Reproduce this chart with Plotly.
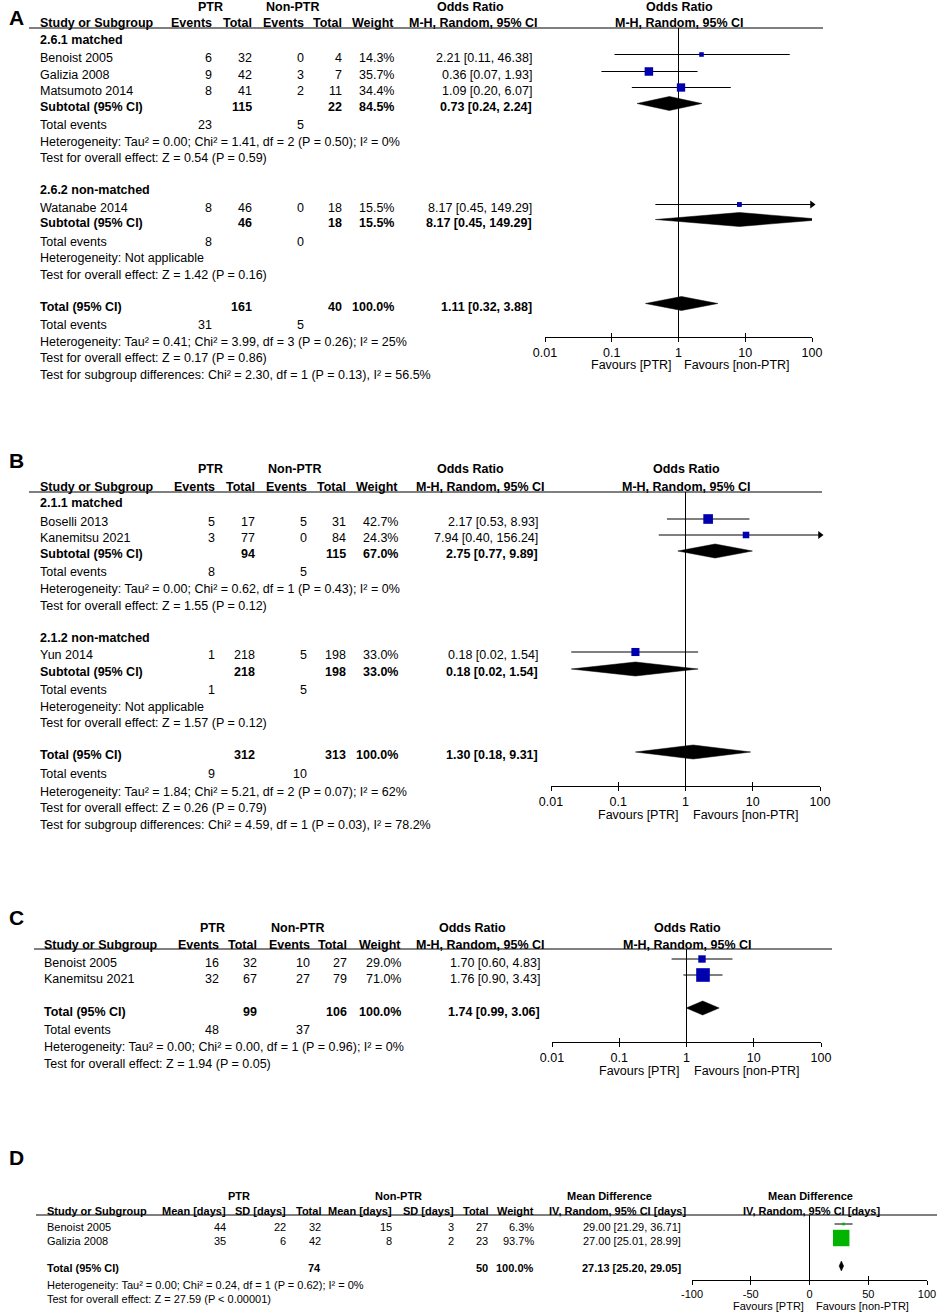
import math
import plotly.graph_objects as go

W, H = 939, 1314
FONT = "Liberation Sans, Arial, Helvetica, sans-serif"
BLUE = "#0000B0"
GREEN = "#00B400"

# ============================ DATA ============================
OR_TICKS = [0.01, 0.1, 1, 10, 100]
OR_TICK_TEXT = ["0.01", "0.1", "1", "10", "100"]
MD_TICKS = [-100, -50, 0, 50, 100]
MD_TICK_TEXT = ["-100", "-50", "0", "50", "100"]

# ---- Panel A ----
A_subgroups = ["2.6.1 matched", "2.6.2 non-matched"]
A_studies = ["Benoist 2005", "Galizia 2008", "Matsumoto 2014", "Watanabe 2014"]
A_study_group = [0, 0, 0, 1]
A_ptr_events = [6, 9, 8, 8]
A_ptr_total = [32, 42, 41, 46]
A_non_events = [0, 3, 2, 0]
A_non_total = [4, 7, 11, 18]
A_weight = [14.3, 35.7, 34.4, 15.5]
A_or = [2.21, 0.36, 1.09, 8.17]
A_or_lo = [0.11, 0.07, 0.20, 0.45]
A_or_hi = [46.38, 1.93, 6.07, 149.29]
A_sub_ptr_total = [115, 46]
A_sub_non_total = [22, 18]
A_sub_weight = [84.5, 15.5]
A_sub_or = [0.73, 8.17]
A_sub_lo = [0.24, 0.45]
A_sub_hi = [2.24, 149.29]
A_sub_ptr_events = [23, 8]
A_sub_non_events = [5, 0]
A_sub_het = ["Heterogeneity: Tau² = 0.00; Chi² = 1.41, df = 2 (P = 0.50); I² = 0%",
             "Heterogeneity: Not applicable"]
A_sub_z = ["Test for overall effect: Z = 0.54 (P = 0.59)",
           "Test for overall effect: Z = 1.42 (P = 0.16)"]
A_total_counts = [161, 40]
A_total_weight = 100.0
A_total_or = [1.11, 0.32, 3.88]
A_total_events = [31, 5]
A_total_notes = ["Heterogeneity: Tau² = 0.41; Chi² = 3.99, df = 3 (P = 0.26); I² = 25%",
                 "Test for overall effect: Z = 0.17 (P = 0.86)",
                 "Test for subgroup differences: Chi² = 2.30, df = 1 (P = 0.13), I² = 56.5%"]

# ---- Panel B ----
B_subgroups = ["2.1.1 matched", "2.1.2 non-matched"]
B_studies = ["Boselli 2013", "Kanemitsu 2021", "Yun 2014"]
B_study_group = [0, 0, 1]
B_ptr_events = [5, 3, 1]
B_ptr_total = [17, 77, 218]
B_non_events = [5, 0, 5]
B_non_total = [31, 84, 198]
B_weight = [42.7, 24.3, 33.0]
B_or = [2.17, 7.94, 0.18]
B_or_lo = [0.53, 0.40, 0.02]
B_or_hi = [8.93, 156.24, 1.54]
B_sub_ptr_total = [94, 218]
B_sub_non_total = [115, 198]
B_sub_weight = [67.0, 33.0]
B_sub_or = [2.75, 0.18]
B_sub_lo = [0.77, 0.02]
B_sub_hi = [9.89, 1.54]
B_sub_ptr_events = [8, 1]
B_sub_non_events = [5, 5]
B_sub_het = ["Heterogeneity: Tau² = 0.00; Chi² = 0.62, df = 1 (P = 0.43); I² = 0%",
             "Heterogeneity: Not applicable"]
B_sub_z = ["Test for overall effect: Z = 1.55 (P = 0.12)",
           "Test for overall effect: Z = 1.57 (P = 0.12)"]
B_total_counts = [312, 313]
B_total_weight = 100.0
B_total_or = [1.30, 0.18, 9.31]
B_total_events = [9, 10]
B_total_notes = ["Heterogeneity: Tau² = 1.84; Chi² = 5.21, df = 2 (P = 0.07); I² = 62%",
                 "Test for overall effect: Z = 0.26 (P = 0.79)",
                 "Test for subgroup differences: Chi² = 4.59, df = 1 (P = 0.03), I² = 78.2%"]

# ---- Panel C ----
C_studies = ["Benoist 2005", "Kanemitsu 2021"]
C_ptr_events = [16, 32]
C_ptr_total = [32, 67]
C_non_events = [10, 27]
C_non_total = [27, 79]
C_weight = [29.0, 71.0]
C_or = [1.70, 1.76]
C_or_lo = [0.60, 0.90]
C_or_hi = [4.83, 3.43]
C_total_counts = [99, 106]
C_total_weight = 100.0
C_total_or = [1.74, 0.99, 3.06]
C_total_events = [48, 37]
C_total_notes = ["Heterogeneity: Tau² = 0.00; Chi² = 0.00, df = 1 (P = 0.96); I² = 0%",
                 "Test for overall effect: Z = 1.94 (P = 0.05)"]

# ---- Panel D ----
D_studies = ["Benoist 2005", "Galizia 2008"]
D_ptr_mean = [44, 35]
D_ptr_sd = [22, 6]
D_ptr_total = [32, 42]
D_non_mean = [15, 8]
D_non_sd = [3, 2]
D_non_total = [27, 23]
D_weight = [6.3, 93.7]
D_md = [29.00, 27.00]
D_md_lo = [21.29, 25.01]
D_md_hi = [36.71, 28.99]
D_total_counts = [74, 50]
D_total_weight = 100.0
D_total_md = [27.13, 25.20, 29.05]
D_total_notes = ["Heterogeneity: Tau² = 0.00; Chi² = 0.24, df = 1 (P = 0.62); I² = 0%",
                 "Test for overall effect: Z = 27.59 (P < 0.00001)"]

# ============================ HELPERS ============================
fig = go.Figure()
annotations, shapes, axes = [], [], {}


def text(x, y, s, anchor="left", size=12.5, bold=False):
    annotations.append(dict(
        xref="paper", yref="paper", x=x / W, y=1 - y / H,
        text=(f"<b>{s}</b>" if bold else s), showarrow=False,
        xanchor=anchor, yanchor="middle", borderpad=0,
        font=dict(family=FONT, size=size, color="black")))


def hline(x0, x1, y):
    shapes.append(dict(type="line", xref="paper", yref="paper",
                       x0=x0 / W, x1=x1 / W, y0=1 - y / H, y1=1 - y / H,
                       line=dict(color="black", width=1)))


def fmt_ci(v):
    return f"{v[0]:.2f} [{v[1]:.2f}, {v[2]:.2f}]"


def square_size(w):
    return max(2.5, 0.75 * w ** 0.68)


def set_axes(k, x0, x1, ytop, ybot, log, ticks, ticktext, fs):
    xid = "x" if k == 1 else f"x{k}"
    yid = "y" if k == 1 else f"y{k}"
    rng = [math.log10(ticks[0]), math.log10(ticks[-1])] if log else [ticks[0], ticks[-1]]
    common = dict(type="log" if log else "linear", range=rng, tickvals=ticks,
                  showgrid=False, zeroline=False, fixedrange=True, automargin=False,
                  tickcolor="black", tickwidth=1, ticklen=4)
    axes["xaxis" + xid[1:]] = dict(
        domain=[x0 / W, x1 / W], anchor=yid, ticks="outside", ticktext=ticktext,
        showline=True, linecolor="black", linewidth=1,
        tickfont=dict(family=FONT, size=fs, color="black"), **common)
    axes["yaxis" + yid[1:]] = dict(
        domain=[1 - ybot / H, 1 - ytop / H], range=[ybot, ytop], anchor=xid,
        visible=False, showgrid=False, zeroline=False, fixedrange=True, automargin=False)
    oid = f"x{k + 4}"
    axes["xaxis" + oid[1:]] = dict(overlaying=xid, anchor=yid, ticks="inside",
                                   showticklabels=False, showline=False, **common)
    fig.add_trace(go.Scatter(x=[], y=[], xaxis=oid, yaxis=yid, showlegend=False))
    return xid, yid, rng


def draw_forest(xid, yid, ytop, ybot, ref, xmax, marks, diamonds, color, dh):
    fig.add_trace(go.Scatter(x=[ref, ref], y=[ybot, ytop], mode="lines",
                             line=dict(color="black", width=1), xaxis=xid, yaxis=yid,
                             hoverinfo="skip", showlegend=False))
    cx, cy = [], []
    for (y, e, lo, hi, w) in marks:
        cx += [lo, hi, None]
        cy += [y, y, None]
    fig.add_trace(go.Scatter(x=cx, y=cy, mode="lines", line=dict(color="black", width=1),
                             xaxis=xid, yaxis=yid, hoverinfo="skip", showlegend=False))
    ax_y = [y for (y, e, lo, hi, w) in marks if hi > xmax]
    if ax_y:
        fig.add_trace(go.Scatter(x=[xmax] * len(ax_y), y=ax_y, mode="markers",
                                 marker=dict(symbol="triangle-right", size=7, color="black",
                                             opacity=1),
                                 cliponaxis=False, xaxis=xid, yaxis=yid,
                                 hoverinfo="skip", showlegend=False))
    fig.add_trace(go.Scatter(
        x=[m[1] for m in marks], y=[m[0] for m in marks], mode="markers",
        marker=dict(symbol="square", size=[square_size(m[4]) for m in marks],
                    color=color, opacity=1, line=dict(width=0)),
        xaxis=xid, yaxis=yid, hoverinfo="skip", showlegend=False))
    for (y, e, lo, hi) in diamonds:
        fig.add_trace(go.Scatter(x=[lo, e, hi, e, lo], y=[y, y - dh, y, y + dh, y],
                                 mode="lines", fill="toself", fillcolor="black",
                                 line=dict(color="black", width=0.5),
                                 xaxis=xid, yaxis=yid, hoverinfo="skip", showlegend=False))


def or_panel(k, P, L):
    fs = L["fs"]
    c = L["cols"]
    rows = []
    if P.get("subgroups"):
        for g in range(len(P["subgroups"])):
            rows.append(("group", g))
            rows += [("study", i) for i, sg in enumerate(P["study_group"]) if sg == g]
            rows += [("subtotal", g), ("sub_events", g), ("sub_het", g), ("sub_z", g)]
    else:
        rows += [("study", i) for i in range(len(P["studies"]))]
    rows += [("total", None), ("total_events", None)]
    rows += [("note", j) for j in range(len(P["total_notes"]))]
    ys = L["rows_y"]

    text(L["letter"][1], L["letter"][2], L["letter"][0], size=21, bold=True)
    h1, h2 = L["hdr_y"]
    text(c["ptr_hdr"], h1, "PTR", "center", fs, True)
    text(c["non_hdr"], h1, "Non-PTR", "center", fs, True)
    text(c["est_title"], h1, "Odds Ratio", "center", fs, True)
    text(L["forest_title"], h1, "Odds Ratio", "center", fs, True)
    text(c["label"], h2, "Study or Subgroup", "left", fs, True)
    for key, lab in [("ptr_ev", "Events"), ("ptr_n", "Total"), ("non_ev", "Events"),
                     ("non_n", "Total"), ("weight", "Weight")]:
        text(c[key], h2, lab, "right", fs, True)
    text(c["est_hdr"], h2, "M-H, Random, 95% CI", "right", fs, True)
    text(L["forest_title"], h2, "M-H, Random, 95% CI", "center", fs, True)
    hline(L["rule"][0], L["rule"][1], L["rule_y"])

    marks, diamonds = [], []
    sh = L["mark_shift"]
    for (kind, i), y in zip(rows, ys):
        if kind == "group":
            text(c["label"], y, P["subgroups"][i], "left", fs, True)
        elif kind == "study":
            text(c["label"], y, P["studies"][i], "left", fs)
            text(c["ptr_ev"], y, str(P["ptr_events"][i]), "right", fs)
            text(c["ptr_n"], y, str(P["ptr_total"][i]), "right", fs)
            text(c["non_ev"], y, str(P["non_events"][i]), "right", fs)
            text(c["non_n"], y, str(P["non_total"][i]), "right", fs)
            text(c["weight"], y, f"{P['weight'][i]:.1f}%", "right", fs)
            text(c["est"], y, fmt_ci([P["or"][i], P["lo"][i], P["hi"][i]]), "right", fs)
            marks.append((y - sh, P["or"][i], P["lo"][i], P["hi"][i], P["weight"][i]))
        elif kind == "subtotal":
            text(c["label"], y, "Subtotal (95% CI)", "left", fs, True)
            text(c["ptr_n"], y, str(P["sub_ptr_total"][i]), "right", fs, True)
            text(c["non_n"], y, str(P["sub_non_total"][i]), "right", fs, True)
            text(c["weight"], y, f"{P['sub_weight'][i]:.1f}%", "right", fs, True)
            text(c["est"], y, fmt_ci([P["sub_or"][i], P["sub_lo"][i], P["sub_hi"][i]]), "right", fs, True)
            diamonds.append((y - sh, P["sub_or"][i], P["sub_lo"][i], P["sub_hi"][i]))
        elif kind == "sub_events":
            text(c["label"], y, "Total events", "left", fs)
            text(c["ptr_ev"], y, str(P["sub_ptr_events"][i]), "right", fs)
            text(c["non_ev"], y, str(P["sub_non_events"][i]), "right", fs)
        elif kind == "sub_het":
            text(c["label"], y, P["sub_het"][i], "left", fs)
        elif kind == "sub_z":
            text(c["label"], y, P["sub_z"][i], "left", fs)
        elif kind == "total":
            text(c["label"], y, "Total (95% CI)", "left", fs, True)
            text(c["ptr_n"], y, str(P["total_counts"][0]), "right", fs, True)
            text(c["non_n"], y, str(P["total_counts"][1]), "right", fs, True)
            text(c["weight"], y, f"{P['total_weight']:.1f}%", "right", fs, True)
            text(c["est"], y, fmt_ci(P["total_or"]), "right", fs, True)
            diamonds.append((y - sh, *P["total_or"]))
        elif kind == "total_events":
            text(c["label"], y, "Total events", "left", fs)
            text(c["ptr_ev"], y, str(P["total_events"][0]), "right", fs)
            text(c["non_ev"], y, str(P["total_events"][1]), "right", fs)
        elif kind == "note":
            text(c["label"], y, P["total_notes"][i], "left", fs)

    ytop, ybot = L["rule_y"], L["axis_y"]
    xid, yid, rng = set_axes(k, L["forest"][0], L["forest"][1], ytop, ybot, True,
                             OR_TICKS, OR_TICK_TEXT, fs)
    draw_forest(xid, yid, ytop, ybot, 1, OR_TICKS[-1], marks, diamonds, BLUE, 7)
    text(L["fav"][0], L["fav_y"], "Favours [PTR]", "right", fs)
    text(L["fav"][1], L["fav_y"], "Favours [non-PTR]", "left", fs)


# ---------------- Panel A ----------------
PA = dict(subgroups=A_subgroups, studies=A_studies, study_group=A_study_group,
          ptr_events=A_ptr_events, ptr_total=A_ptr_total, non_events=A_non_events,
          non_total=A_non_total, weight=A_weight, **{"or": A_or}, lo=A_or_lo, hi=A_or_hi,
          sub_ptr_total=A_sub_ptr_total, sub_non_total=A_sub_non_total,
          sub_weight=A_sub_weight, sub_or=A_sub_or, sub_lo=A_sub_lo, sub_hi=A_sub_hi,
          sub_ptr_events=A_sub_ptr_events, sub_non_events=A_sub_non_events,
          sub_het=A_sub_het, sub_z=A_sub_z, total_counts=A_total_counts,
          total_weight=A_total_weight, total_or=A_total_or, total_events=A_total_events,
          total_notes=A_total_notes)
LA = dict(fs=12.5, letter=("A", 8, 17), hdr_y=(7, 23), rule_y=28, rule=(29, 823),
          cols=dict(label=39, ptr_ev=213, ptr_n=253, non_ev=305, non_n=343, weight=395,
                    est=533, est_hdr=539, ptr_hdr=210, non_hdr=292, est_title=471),
          forest=(545, 812), forest_title=679, axis_y=337, fav_y=365, fav=(673, 683),
          mark_shift=3.5,
          rows_y=[40, 58, 75, 91, 107, 125, 142, 158, 190, 208, 223, 242, 258, 275,
                  307, 325, 342, 358, 375])
or_panel(1, PA, LA)

# ---------------- Panel B ----------------
PB = dict(subgroups=B_subgroups, studies=B_studies, study_group=B_study_group,
          ptr_events=B_ptr_events, ptr_total=B_ptr_total, non_events=B_non_events,
          non_total=B_non_total, weight=B_weight, **{"or": B_or}, lo=B_or_lo, hi=B_or_hi,
          sub_ptr_total=B_sub_ptr_total, sub_non_total=B_sub_non_total,
          sub_weight=B_sub_weight, sub_or=B_sub_or, sub_lo=B_sub_lo, sub_hi=B_sub_hi,
          sub_ptr_events=B_sub_ptr_events, sub_non_events=B_sub_non_events,
          sub_het=B_sub_het, sub_z=B_sub_z, total_counts=B_total_counts,
          total_weight=B_total_weight, total_or=B_total_or, total_events=B_total_events,
          total_notes=B_total_notes)
LB = dict(fs=12.5, letter=("B", 8, 460), hdr_y=(469, 487), rule_y=492, rule=(29, 822),
          cols=dict(label=39, ptr_ev=216, ptr_n=256, non_ev=308, non_n=347, weight=399,
                    est=539, est_hdr=546, ptr_hdr=210, non_hdr=294, est_title=471),
          forest=(551, 820), forest_title=686, axis_y=786, fav_y=815, fav=(680, 692),
          mark_shift=3,
          rows_y=[503, 522, 538, 554, 572, 589, 606, 638, 655, 672, 690, 707, 723,
                  755, 774, 792, 808, 825])
or_panel(2, PB, LB)

# ---------------- Panel C ----------------
PC = dict(studies=C_studies, ptr_events=C_ptr_events, ptr_total=C_ptr_total,
          non_events=C_non_events, non_total=C_non_total, weight=C_weight,
          **{"or": C_or}, lo=C_or_lo, hi=C_or_hi, total_counts=C_total_counts,
          total_weight=C_total_weight, total_or=C_total_or, total_events=C_total_events,
          total_notes=C_total_notes)
LC = dict(fs=12.5, letter=("C", 8, 917), hdr_y=(928, 945), rule_y=949, rule=(34, 832),
          cols=dict(label=43, ptr_ev=220, ptr_n=258, non_ev=311, non_n=348, weight=402,
                    est=541, est_hdr=546, ptr_hdr=212, non_hdr=297, est_title=472),
          forest=(552, 821), forest_title=687, axis_y=1042, fav_y=1071, fav=(681, 693),
          mark_shift=4,
          rows_y=[963, 979, 1012, 1030, 1047, 1064])
or_panel(3, PC, LC)

# ---------------- Panel D ----------------
fsD = 11
text(8, 1157, "D", size=21, bold=True)
text(239, 1196, "PTR", "center", fsD, True)
text(398, 1196, "Non-PTR", "center", fsD, True)
text(609, 1196, "Mean Difference", "center", fsD, True)
text(810, 1196, "Mean Difference", "center", fsD, True)
hdrD = [(46, "Study or Subgroup", "left"), (227, "Mean [days]", "right"),
        (287, "SD [days]", "right"), (322, "Total", "right"),
        (393, "Mean [days]", "right"), (455, "SD [days]", "right"),
        (489, "Total", "right"), (535, "Weight", "right"),
        (687, "IV, Random, 95% CI [days]", "right"), (811, "IV, Random, 95% CI [days]", "center")]
for x, s, a in hdrD:
    text(x, 1211, s, a, fsD, True)
hline(36, 937, 1215)
D_rows_y = [1227, 1241]
marksD = []
for i, y in enumerate(D_rows_y):
    text(46, y, D_studies[i], "left", fsD)
    text(227, y, str(D_ptr_mean[i]), "right", fsD)
    text(287, y, str(D_ptr_sd[i]), "right", fsD)
    text(322, y, str(D_ptr_total[i]), "right", fsD)
    text(393, y, str(D_non_mean[i]), "right", fsD)
    text(455, y, str(D_non_sd[i]), "right", fsD)
    text(489, y, str(D_non_total[i]), "right", fsD)
    text(535, y, f"{D_weight[i]:.1f}%", "right", fsD)
    text(682, y, fmt_ci([D_md[i], D_md_lo[i], D_md_hi[i]]), "right", fsD)
    marksD.append((y - 3, D_md[i], D_md_lo[i], D_md_hi[i], D_weight[i]))
yT = 1268
text(46, yT, "Total (95% CI)", "left", fsD, True)
text(322, yT, str(D_total_counts[0]), "right", fsD, True)
text(489, yT, str(D_total_counts[1]), "right", fsD, True)
text(535, yT, f"{D_total_weight:.1f}%", "right", fsD, True)
text(682, yT, fmt_ci(D_total_md), "right", fsD, True)
text(46, 1285, D_total_notes[0], "left", fsD)
text(46, 1299, D_total_notes[1], "left", fsD)
xid, yid, _ = set_axes(4, 692, 927, 1215, 1280, False, MD_TICKS, MD_TICK_TEXT, fsD)
draw_forest(xid, yid, 1215, 1280, 0, MD_TICKS[-1], marksD, [(yT - 2, *D_total_md)], GREEN, 5)
text(805, 1306, "Favours [PTR]", "right", fsD)
text(815, 1306, "Favours [non-PTR]", "left", fsD)

fig.update_layout(width=W, height=H, margin=dict(l=0, r=0, t=0, b=0, pad=0), autosize=False,
                  paper_bgcolor="white", plot_bgcolor="white", showlegend=False,
                  annotations=annotations, shapes=shapes, **axes)
fig.write_html("out.html", config={"displayModeBar": False},
               post_script="document.body.style.margin='0px';"
                           "document.body.style.overflow='hidden';")
